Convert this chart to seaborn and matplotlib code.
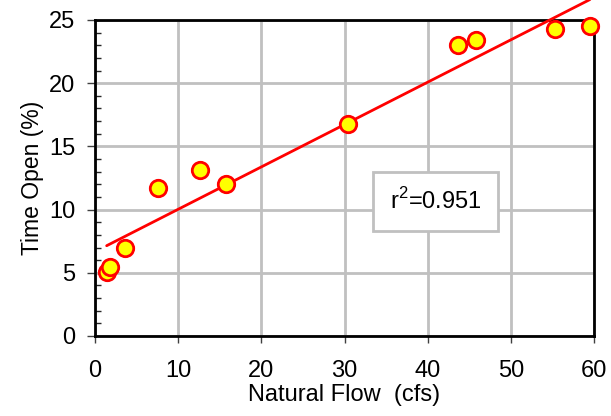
import numpy as np
import pandas as pd
import matplotlib
matplotlib.use("Agg")
import matplotlib.pyplot as plt
from matplotlib.ticker import MultipleLocator
import seaborn as sns

natural_flow = [1.4, 1.8, 3.6, 7.6, 12.6, 15.7, 30.4, 43.6, 45.8, 55.3, 59.5]
time_open = [5.1, 5.45, 6.95, 11.7, 13.1, 12.0, 16.8, 23.05, 23.4, 24.3, 24.5]
r2_label = "r$^2$=0.951"
x_ticks = [0, 10, 20, 30, 40, 50, 60]
y_ticks = [0, 5, 10, 15, 20, 25]

df = pd.DataFrame({"flow": natural_flow, "open": time_open})

sns.set_style("white")
plt.rcParams["font.family"] = ["Liberation Sans", "DejaVu Sans"]
plt.rcParams["mathtext.fontset"] = "custom"
plt.rcParams["mathtext.rm"] = "Liberation Sans"
plt.rcParams["text.color"] = "black"
plt.rcParams["axes.labelcolor"] = "black"
plt.rcParams["xtick.labelcolor"] = "black"
plt.rcParams["ytick.labelcolor"] = "black"

fig = plt.figure(figsize=(6.11, 4.16), dpi=100)
ax = fig.add_axes([95 / 611, 80 / 416, 499 / 611, 316 / 416])

sns.regplot(data=df, x="flow", y="open", ax=ax, ci=None, truncate=True,
            scatter=False, line_kws=dict(color="#ff0000", lw=2.0, clip_on=False, zorder=3))
sns.scatterplot(data=df, x="flow", y="open", ax=ax, s=140, color="#ffff00",
                edgecolor="#ff0000", linewidth=2.0, zorder=4, clip_on=False)

ax.set_xlim(0, 60)
ax.set_ylim(0, 25)
ax.set_xticks(x_ticks)
ax.set_yticks(y_ticks)
ax.yaxis.set_minor_locator(MultipleLocator(1))
ax.grid(True, which="major", color="#c0c0c0", lw=2)
ax.set_axisbelow(True)
for s in ax.spines.values():
    s.set_visible(True)
    s.set_color("black")
    s.set_linewidth(2)
ax.tick_params(axis="x", which="major", direction="out", length=5, width=1,
               labelsize=17, color="#404040", labelcolor="black", pad=12, bottom=True)
ax.tick_params(axis="y", which="major", direction="out", length=6, width=1,
               labelsize=17, color="#404040", labelcolor="black", pad=8, left=True)
ax.tick_params(axis="y", which="minor", direction="in", length=4, width=1, left=True)
ax.set_xlabel("Natural Flow  (cfs)", fontsize=17, labelpad=1.5, color="black")
ax.set_ylabel("Time Open (%)", fontsize=16.5, labelpad=3.5, color="black")

ax.text(0.683, 0.427, r2_label, transform=ax.transAxes, ha="center", va="center",
        fontsize=17, color="black",
        bbox=dict(boxstyle="square,pad=0.7", fc="white", ec="#c0c0c0", lw=2))

fig.savefig("out.png", dpi=100)
